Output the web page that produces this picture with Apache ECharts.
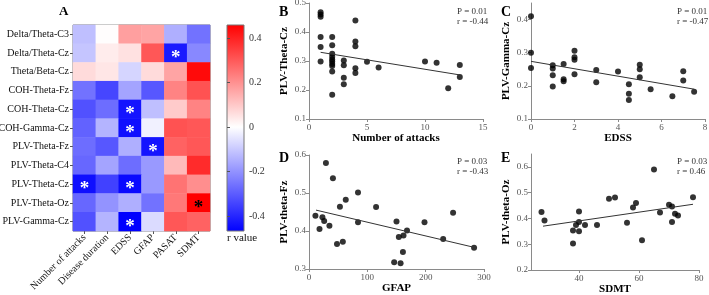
<!DOCTYPE html>
<html><head><meta charset="utf-8">
<script src="https://cdn.jsdelivr.net/npm/echarts@6/dist/echarts.min.js"></script>
<style>html,body{margin:0;padding:0;background:#fff}#c{width:709px;height:295px}</style>
</head><body><div id="c"></div>
<script>
const rowLabels = ['Delta/Theta-C3','Delta/Theta-Cz','Theta/Beta-Cz','COH-Theta-Fz','COH-Theta-Cz','COH-Gamma-Cz','PLV-Theta-Fz','PLV-Theta-C4','PLV-Theta-Cz','PLV-Theta-Oz','PLV-Gamma-Cz'];
const colLabels = ['Number of attacks','Disease duration','EDSS','GFAP','PASAT','SDMT'];
const rValues = [
  [-0.12, 0.00, 0.17, 0.16, -0.15, -0.26],
  [-0.11, 0.03, 0.05, 0.30, -0.42, -0.22],
  [ 0.06, 0.04, -0.08, 0.06, 0.16, 0.44],
  [-0.26, -0.34, -0.17, -0.31, 0.22, 0.31],
  [-0.32, -0.27, -0.43, -0.12, 0.09, 0.22],
  [-0.29, -0.14, -0.44, -0.03, 0.31, 0.30],
  [-0.27, -0.31, -0.15, -0.43, 0.28, 0.30],
  [-0.28, -0.17, -0.27, -0.19, 0.12, 0.38],
  [-0.44, -0.35, -0.45, -0.19, 0.25, 0.20],
  [-0.28, -0.20, -0.15, -0.26, 0.24, 0.46],
  [-0.32, -0.14, -0.47, -0.07, 0.30, 0.28]
];
// [row, col, asterisk colour]
const sigCells = [[1,4,'#fff'],[4,2,'#fff'],[5,2,'#fff'],[6,3,'#fff'],[8,0,'#fff'],[8,2,'#fff'],[10,2,'#fff'],[9,5,'#000']];
const colorbarTicks = [-0.4,-0.2,0,0.2,0.4];

const attacksData = [[1,0.468],[1,0.46],[1,0.453],[1,0.383],[1,0.348],[1,0.298],
  [2,0.383],[2,0.354],[2,0.325],[2,0.315],[2,0.305],[2,0.298],[2,0.29],[2,0.283],[2,0.264],[2,0.184],
  [3,0.302],[3,0.285],[3,0.242],[3,0.22],
  [4,0.44],[4,0.367],[4,0.351],[4,0.275],[4,0.259],
  [5,0.297],[6,0.278],[10,0.298],[11,0.294],[12,0.206],[13,0.286],[13,0.245]];
const attacksFit = [[1,0.33],[13,0.252]];

const edssData = [[0,0.41],[0,0.30],[0,0.254],[1,0.262],[1,0.252],[1,0.232],[1,0.198],
  [1.5,0.266],[1.5,0.22],[1.5,0.214],[2,0.306],[2,0.286],[2,0.279],[2,0.235],
  [3,0.248],[3,0.211],[4,0.243],[4.5,0.205],[4.5,0.176],[4.5,0.157],
  [5,0.264],[5,0.25],[5,0.226],[5.5,0.19],[6.5,0.169],[7,0.244],[7,0.216],[7.5,0.182]];
const edssFit = [[0,0.274],[7.5,0.19]];

const gfapData = [[11,0.44],[18,0.405],[23,0.436],[26,0.426],[29,0.579],[35,0.414],[41,0.539],
  [48,0.366],[53,0.464],[58,0.372],[63,0.482],[84,0.501],[84,0.423],[115,0.463],
  [146,0.318],[150,0.425],[154,0.384],[157,0.315],[161,0.345],[162,0.388],[168,0.401],
  [198,0.423],[230,0.379],[247,0.448],[283,0.356]];
const gfapFit = [[12,0.455],[283,0.357]];

const sdmtData = [[27.5,0.425],[28.5,0.392],[38,0.353],[38,0.303],[39,0.375],[40,0.427],[40,0.386],[40,0.35],
  [42,0.375],[46,0.375],[50,0.476],[52,0.481],[56,0.383],[58,0.442],[59,0.46],[61,0.315],
  [65,0.59],[67,0.423],[70,0.453],[71,0.446],[71,0.386],[72,0.418],[73,0.411],[78,0.482]];
const sdmtFit = [[28,0.37],[78,0.455]];

const serif = 'Liberation Serif, Times New Roman, serif';
const axisGray = '#8a8a8a';
const labelGray = '#555';

function sAxisX(grid, min, max, opts) {
  return Object.assign({
    type:'value', gridIndex:grid, min:min, max:max,
    nameLocation:'middle', nameGap:14,
    nameTextStyle:{fontFamily:serif, fontWeight:'bold', fontSize:11, color:'#000'},
    axisLine:{show:true, lineStyle:{color:axisGray}},
    axisTick:{show:true, length:3, lineStyle:{color:axisGray}},
    axisLabel:{fontFamily:serif, fontSize:9, color:labelGray, margin:4},
    splitLine:{show:false}
  }, opts);
}
function sAxisY(grid, min, max, opts) {
  return Object.assign({
    type:'value', gridIndex:grid, min:min, max:max,
    nameLocation:'middle', nameGap:19, nameRotate:90,
    nameTextStyle:{fontFamily:serif, fontWeight:'bold', fontSize:11, color:'#000'},
    axisLine:{show:true, lineStyle:{color:axisGray}},
    axisTick:{show:true, length:3, lineStyle:{color:axisGray}},
    axisLabel:{fontFamily:serif, fontSize:9, color:labelGray, margin:3},
    splitLine:{show:false}
  }, opts);
}

const heatData = [];
rValues.forEach((row, r) => row.forEach((v, c) => {
  const sig = sigCells.find(s => s[0] === r && s[1] === c);
  const item = {value:[c, r, v]};
  if (sig) item.label = {show:true, formatter:'*', color:sig[2], fontSize:19, fontFamily:serif, fontWeight:'bold', offset:[0,5]};
  heatData.push(item);
}));

const noBounds = {containLabel:false, outerBoundsMode:'none'};
const option = {
  animation:false,
  grid:[
    Object.assign({left:73, top:25, width:137, height:206, show:true, borderColor:'#777', borderWidth:1}, noBounds),
    Object.assign({left:227, top:25, width:17, height:206, show:true, borderColor:'#777', borderWidth:1,
      backgroundColor:{type:'linear',x:0,y:0,x2:0,y2:1,colorStops:[{offset:0,color:'#ff0000'},{offset:0.495,color:'#ffffff'},{offset:1,color:'#0000ff'}]}}, noBounds),
    Object.assign({left:309, top:3, width:174, height:116}, noBounds),
    Object.assign({left:531, top:3, width:174, height:116}, noBounds),
    Object.assign({left:309, top:155, width:175, height:114}, noBounds),
    Object.assign({left:531, top:154, width:168, height:116}, noBounds)
  ],
  visualMap:{show:false, type:'continuous', min:-0.467, max:0.458, seriesIndex:0, dimension:2,
    inRange:{color:['#0000ff','#ffffff','#ff0000']}},
  xAxis:[
    {type:'category', gridIndex:0, data:colLabels,
      axisLine:{show:false}, axisTick:{show:true, alignWithLabel:true, length:3, lineStyle:{color:'#555'}},
      axisLabel:{rotate:45, fontFamily:serif, fontSize:10, color:'#111', margin:5, interval:0}, splitLine:{show:false}},
    {type:'value', gridIndex:1, show:false, min:0, max:1},
    sAxisX(2, 0, 15, {interval:5, name:'Number of attacks'}),
    sAxisX(3, 0, 8, {interval:2, name:'EDSS'}),
    sAxisX(4, 0, 300, {interval:100, name:'GFAP'}),
    sAxisX(5, 24, 80, {name:'SDMT', axisLabel:{fontFamily:serif, fontSize:9, color:labelGray, margin:4, customValues:[40,60,80]},
      axisTick:{show:true, length:3, lineStyle:{color:axisGray}, customValues:[40,60,80]}})
  ],
  yAxis:[
    {type:'category', gridIndex:0, data:rowLabels, inverse:true,
      axisLine:{show:false}, axisTick:{show:true, alignWithLabel:true, length:3, lineStyle:{color:'#555'}},
      axisLabel:{fontFamily:serif, fontSize:10, color:'#111', margin:4, interval:0}, splitLine:{show:false}},
    {type:'value', gridIndex:1, position:'right', min:-0.467, max:0.458,
      axisLine:{show:false},
      axisTick:{show:true, length:3, lineStyle:{color:'#555'}, customValues:colorbarTicks},
      axisLabel:{fontFamily:serif, fontSize:10, color:'#333', margin:5, customValues:colorbarTicks, formatter:v => String(v)},
      splitLine:{show:false}},
    sAxisY(2, 0.1, 0.5, {interval:0.1, name:'PLV-Theta-Cz'}),
    sAxisY(3, 0.1, 0.45, {name:'PLV-Gamma-Cz', axisLabel:{fontFamily:serif, fontSize:9, color:labelGray, margin:3, customValues:[0.1,0.2,0.3,0.4]},
      axisTick:{show:true, length:3, lineStyle:{color:axisGray}, customValues:[0.1,0.2,0.3,0.4]}}),
    sAxisY(4, 0.3, 0.6, {interval:0.1, name:'PLV-theta-Fz'}),
    sAxisY(5, 0.2, 0.65, {name:'PLV-theta-Oz', axisLabel:{fontFamily:serif, fontSize:9, color:labelGray, margin:3, customValues:[0.2,0.3,0.4,0.5,0.6]},
      axisTick:{show:true, length:3, lineStyle:{color:axisGray}, customValues:[0.2,0.3,0.4,0.5,0.6]}})
  ],
  series:[
    {type:'heatmap', xAxisIndex:0, yAxisIndex:0, data:heatData, label:{show:false}},
    {type:'scatter', xAxisIndex:2, yAxisIndex:2, data:attacksData, symbolSize:6, itemStyle:{color:'#000'}},
    {type:'line', xAxisIndex:2, yAxisIndex:2, data:attacksFit, symbol:'none', lineStyle:{color:'#333', width:1}},
    {type:'scatter', xAxisIndex:3, yAxisIndex:3, data:edssData, symbolSize:6, itemStyle:{color:'#000'}},
    {type:'line', xAxisIndex:3, yAxisIndex:3, data:edssFit, symbol:'none', lineStyle:{color:'#333', width:1}},
    {type:'scatter', xAxisIndex:4, yAxisIndex:4, data:gfapData, symbolSize:6, itemStyle:{color:'#000'}},
    {type:'line', xAxisIndex:4, yAxisIndex:4, data:gfapFit, symbol:'none', lineStyle:{color:'#333', width:1}},
    {type:'scatter', xAxisIndex:5, yAxisIndex:5, data:sdmtData, symbolSize:6, itemStyle:{color:'#000'}},
    {type:'line', xAxisIndex:5, yAxisIndex:5, data:sdmtFit, symbol:'none', lineStyle:{color:'#333', width:1}}
  ],
  graphic:[
    {type:'text', left:59, top:5, style:{text:'A', font:'bold 13px '+serif, fill:'#000'}},
    {type:'text', left:279, top:5, style:{text:'B', font:'bold 14px '+serif, fill:'#000'}},
    {type:'text', left:501, top:5, style:{text:'C', font:'bold 14px '+serif, fill:'#000'}},
    {type:'text', left:279, top:151, style:{text:'D', font:'bold 14px '+serif, fill:'#000'}},
    {type:'text', left:501, top:151, style:{text:'E', font:'bold 14px '+serif, fill:'#000'}},
    {type:'text', left:227, top:233, style:{text:'r value', font:'11px '+serif, fill:'#111'}},
    {type:'text', left:457, top:7, style:{text:'P = 0.01\nr = -0.44', font:'9px '+serif, fill:'#333', lineHeight:10}},
    {type:'text', left:677, top:7, style:{text:'P = 0.01\nr = -0.47', font:'9px '+serif, fill:'#333', lineHeight:10}},
    {type:'text', left:457, top:157, style:{text:'P = 0.03\nr = -0.43', font:'9px '+serif, fill:'#333', lineHeight:10}},
    {type:'text', left:677, top:157, style:{text:'P = 0.03\nr = 0.46', font:'9px '+serif, fill:'#333', lineHeight:10}}
  ]
};
const chart = echarts.init(document.getElementById('c'));
chart.setOption(option);
</script></body></html>
